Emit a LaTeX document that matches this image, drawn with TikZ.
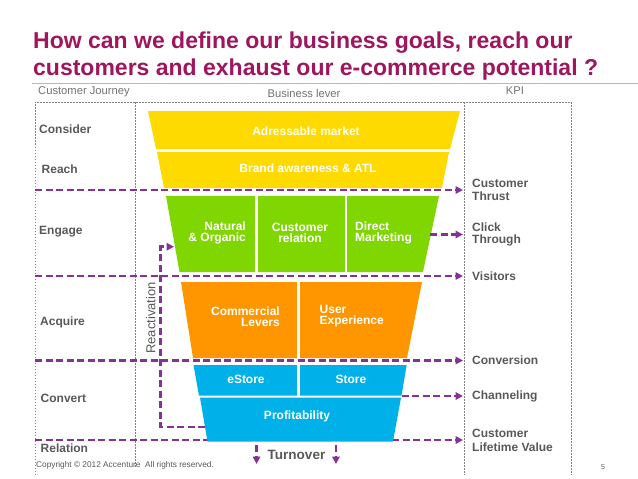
\documentclass[tikz,border=0pt]{standalone}
\usepackage{fontspec}
\setmainfont{Liberation Sans}
\usetikzlibrary{arrows.meta}
\definecolor{titlepurple}{RGB}{158,22,94}
\definecolor{flowpurple}{RGB}{133,50,150}
\definecolor{leveryellow}{RGB}{255,218,0}
\definecolor{levergreen}{RGB}{128,214,0}
\definecolor{leverorange}{RGB}{255,150,0}
\definecolor{leverblue}{RGB}{0,176,232}
\definecolor{textgray}{RGB}{88,88,88}
\definecolor{rulegold}{RGB}{234,180,70}

\begin{document}
\begin{tikzpicture}
  [x=1pt,y=-1pt,
   every node/.style={inner sep=0pt,text=textgray,font=\bfseries\fontsize{12}{12.5}\selectfont},
   stage/.style={anchor=west},
   kpitext/.style={anchor=west,align=left},
   cell/.style={text=white,align=center,font=\bfseries\fontsize{12}{10.8}\selectfont},
   header/.style={text=textgray!85,font=\fontsize{11.2}{12}\selectfont},
   flow/.style={draw=flowpurple,line width=2.6pt,dash pattern=on 7pt off 3.5pt,
     -{Triangle[length=7.5pt,width=7.5pt]}},
   guide/.style={draw=gray,line width=0.6pt,dash pattern=on 1.5pt off 1.5pt},
   gap/.style={draw=white,line width=2.6pt}]
  \useasboundingbox (0,0) rectangle (638,479);

  % title
  \node (title1)[anchor=base west,text=titlepurple,font=\bfseries\fontsize{23}{27}\selectfont]
    at (33,48) {How can we define our business goals, reach our};
  \node (title2)[anchor=base west,text=titlepurple,font=\bfseries\fontsize{23}{27}\selectfont]
    at (33,75) {customers and exhaust our e-commerce potential ?};
  \draw[rulegold,line width=0.8pt] (32,83) -- (638,83);

  \node (journey)[header,anchor=west] at (38,92) {Customer Journey};
  \node (lever)[header] at (304,93) {Business lever};
  \node (kpihead)[header] at (515,90.5) {KPI};

  % dotted frame
  \coordinate (frameL) at (35,102);
  \draw[guide] (35,475) -- (frameL) -- (571,102) -- (571,475);
  \draw[guide] (135,102) -- (135,468);
  \draw[guide] (464,102) -- (464,475);

  % customer journey
  \foreach \name/\x/\y/\txt in {consider/39/129/Consider,reach/41.5/169/Reach,
      engage/39/232/Engage,acquire/40/322/Acquire,convert/40.5/398/Convert,
      relation/40.5/448/Relation}
    \node (\name)[stage] at (\x,\y) {\txt};

  % kpi
  \node (thrust)[kpitext] at (472,190) {Customer\\Thrust};
  \node (click)[kpitext] at (472,234.5) {Click\\Through};
  \node (visitors)[kpitext] at (472,276) {Visitors};
  \node (conversion)[kpitext] at (472,360.5) {Conversion};
  \node (channeling)[kpitext] at (472,396) {Channeling};
  \node (lifetime)[kpitext,font=\bfseries\fontsize{12}{14}\selectfont]
    at (472,440) {Customer\\Lifetime Value};

  \foreach \kpi in {thrust,visitors,conversion,lifetime}
    \draw[flow] (frameL |- \kpi.west) -- ([xshift=-9pt]\kpi.west);

  % funnel
  \fill[leveryellow] (148,111) -- (460,111) -- (450,149) -- (156,149) -- cycle;
  \fill[leveryellow] (157,152) -- (449,152) -- (442,188) -- (164,188) -- cycle;
  \fill[levergreen] (166,196) -- (439,196) -- (423,272) -- (179.5,272) -- cycle;
  \fill[leverorange] (181,282) -- (422,282) -- (407,358) -- (193,358) -- cycle;
  \fill[leverblue] (193.5,365) -- (406.7,365) -- (401.5,395.7) -- (199,395.7) -- cycle;
  \fill[leverblue] (200,397.7) -- (401,397.7) -- (393,441.5) -- (207.5,441.5) -- cycle;
  \draw[gap] (256.3,195) -- (256.3,273);
  \draw[gap] (346,195) -- (346,273);
  \draw[gap] (298.3,281) -- (298.3,359);
  \draw[gap] (298.3,364) -- (298.3,396);

  \node (market)[cell] at (306,131) {Adressable market};
  \node (brand)[cell] at (308,168.5) {Brand awareness \& ATL};
  \node (natural)[cell,align=right,anchor=east] at (246,233) {Natural\\\& Organic};
  \node (custrel)[cell] at (300,233) {Customer\\relation};
  \node (direct)[cell,align=left,anchor=west] at (355,233) {Direct\\Marketing};
  \node (commercial)[cell,align=right,anchor=east] at (280,316.5) {Commercial\\Levers};
  \node (ux)[cell,align=left,anchor=west] at (319.5,316.5) {User\\Experience};
  \node (estore)[cell] at (246,379.5) {eStore};
  \node (store)[cell] at (351,379.5) {Store};
  \node (profit)[cell] at (297,416) {Profitability};

  % flows out of the funnel
  \coordinate (directR) at (430,234.5);
  \coordinate (storeR) at (401.7,396);
  \draw[flow] (directR) -- ([xshift=-9pt]click.west);
  \draw[flow] (storeR) -- ([xshift=-9pt]channeling.west);

  % reactivation loop
  \coordinate (reactFrom) at (205,427);
  \coordinate (reactTo) at (174,246.7);
  \draw[flow] (reactFrom) -- (160.7,427) |- (reactTo);
  \node (react)[rotate=90,font=\fontsize{13}{14}\selectfont] at (150.7,318) {Reactivation};

  \node (turnover)[font=\bfseries\fontsize{13.5}{15}\selectfont] at (296.5,455) {Turnover};
  \draw[flow] ([xshift=-11pt,yshift=10pt]turnover.west) -- ++(0,19);
  \draw[flow] ([xshift=10.5pt,yshift=10pt]turnover.east) -- ++(0,19);

  \node (copyright)[anchor=west,font=\fontsize{8.3}{9}\selectfont] at (36,465)
    {Copyright \textcopyright\ 2012 Accenture\ \ All rights reserved.};
  \node (page)[font=\fontsize{7}{8}\selectfont] at (603,467) {5};
\end{tikzpicture}
\end{document}
